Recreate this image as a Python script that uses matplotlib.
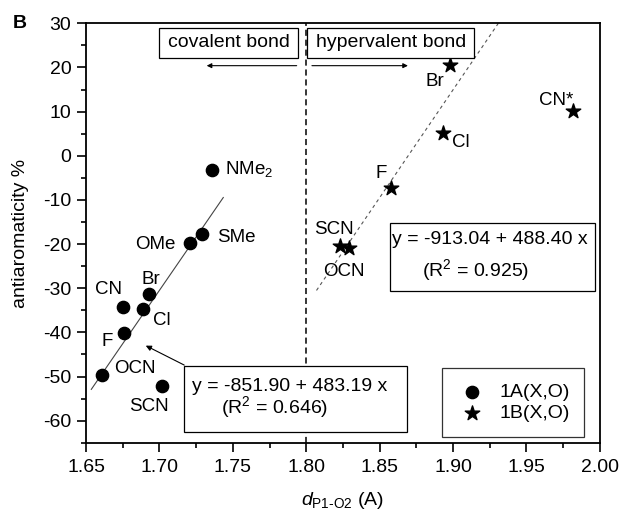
import matplotlib
matplotlib.use("Agg")
import matplotlib.pyplot as plt
from matplotlib.patches import Rectangle
import numpy as np

plt.rcParams['font.family'] = ['Liberation Sans', 'DejaVu Sans']
plt.rcParams['axes.unicode_minus'] = False
plt.rcParams['mathtext.fontset'] = 'custom'
plt.rcParams['mathtext.rm'] = 'Liberation Sans'
plt.rcParams['mathtext.it'] = 'Liberation Sans:italic'

# 1A(X,O) series (circles)
labels_a = ["NMe$_2$", "SMe", "OMe", "Br", "CN", "Cl", "F", "OCN", "SCN"]
x_a = [1.736, 1.729, 1.721, 1.693, 1.675, 1.689, 1.676, 1.661, 1.702]
y_a = [-3.2, -17.8, -19.8, -31.4, -34.2, -34.7, -40.1, -49.6, -52.1]

# 1B(X,O) series (stars)
labels_b = ["Br", "CN*", "Cl", "F", "SCN", "OCN"]
x_b = [1.898, 1.982, 1.893, 1.858, 1.823, 1.829]
y_b = [20.6, 10.1, 5.2, -7.2, -20.4, -20.9]

# linear fits (intercept, slope) and drawn x ranges
fit_a = (-851.90, 483.19)
fit_b = (-913.04, 488.40)
fit_a_range = [1.6536, 1.7435]
fit_b_range = [1.807, 1.931]

xticks = [1.65, 1.70, 1.75, 1.80, 1.85, 1.90, 1.95, 2.00]
yticks = [30, 20, 10, 0, -10, -20, -30, -40, -50, -60]

FS = 14
LFS = 13.5

fig = plt.figure(figsize=(6.22, 5.15), dpi=100)
ax = fig.add_axes([0.1383, 0.1402, 0.8260, 0.8146])
ax.set_xlim(1.65, 2.00)
ax.set_ylim(-65, 30)

ax.set_xticks(xticks)
ax.set_xticklabels([f"{v:.2f}" for v in xticks])
ax.set_yticks(yticks)
ax.set_yticklabels([str(v) for v in yticks])
ax.set_yticks(np.arange(-65, 31, 5), minor=True)
ax.set_xticks(np.arange(1.65, 2.001, 0.025), minor=True)
ax.tick_params(axis='both', which='major', direction='out', length=6.5, width=1.2, labelsize=FS)
ax.tick_params(axis='y', which='major', pad=4)
ax.tick_params(axis='x', which='major', pad=5)
ax.tick_params(axis='both', which='minor', direction='out', length=3.6, width=1.2)
for s in ax.spines.values():
    s.set_linewidth(1.3)

# fit lines
xa = np.array(fit_a_range)
ax.plot(xa, fit_a[0] + fit_a[1] * xa, color='#444444', lw=0.8)
xb = np.array(fit_b_range)
ax.plot(xb, fit_b[0] + fit_b[1] * xb, color='#555555', lw=0.8, ls=(0, (3, 3)))

# vertical dashed line at 1.80
ax.axvline(1.80, color='black', lw=1.1, ls=(0, (4, 2.5)))

# markers
ax.scatter(x_a, y_a, marker='o', s=78, color='black', zorder=3, label='1A(X,O)')
ax.scatter(x_b, y_b, marker='*', s=120, color='black', zorder=3, label='1B(X,O)')

# point labels (text centers)
lab_pos_a = {
    "NMe$_2$": (1.7447, -2.9, 'left'),
    "SMe": (1.739, -18.5, 'left'),
    "OMe": (1.7111, -20.2, 'right'),
    "Br": (1.6945, -28.0, 'center'),
    "CN": (1.6651, -30.2, 'center'),
    "Cl": (1.7018, -37.3, 'center'),
    "F": (1.6645, -42.1, 'center'),
    "OCN": (1.6836, -48.1, 'center'),
    "SCN": (1.6928, -56.8, 'center'),
}
for lab in labels_a:
    tx, ty, ha = lab_pos_a[lab]
    ax.text(tx, ty, lab, fontsize=LFS, ha=ha, va='center', zorder=4)

lab_pos_b = {
    "Br": (1.8876, 16.8, 'center'),
    "CN*": (1.9705, 12.6, 'center'),
    "Cl": (1.905, 3.0, 'center'),
    "F": (1.8509, -4.0, 'center'),
    "SCN": (1.8191, -16.6, 'center'),
    "OCN": (1.8255, -26.2, 'center'),
}
for lab in labels_b:
    tx, ty, ha = lab_pos_b[lab]
    ax.text(tx, ty, lab, fontsize=LFS, ha=ha, va='center', zorder=4)

# region boxes
ax.add_patch(Rectangle((1.700, 22.07), 0.0944, 6.93, fc='white', ec='black', lw=0.9, zorder=4))
ax.text(1.7474, 25.6, "covalent bond", fontsize=FS, ha='center', va='center', zorder=5)
ax.add_patch(Rectangle((1.8007, 22.07), 0.1135, 6.93, fc='white', ec='black', lw=0.9, zorder=4))
ax.text(1.8577, 25.6, "hypervalent bond", fontsize=FS, ha='center', va='center', zorder=5)

ax.annotate("", xy=(1.7322, 20.4), xytext=(1.7935, 20.4),
            arrowprops=dict(arrowstyle='-|>', color='black', lw=0.8, mutation_scale=7,
                            shrinkA=0, shrinkB=0))
ax.annotate("", xy=(1.8693, 20.4), xytext=(1.8039, 20.4),
            arrowprops=dict(arrowstyle='-|>', color='black', lw=0.8, mutation_scale=7,
                            shrinkA=0, shrinkB=0))

# equation boxes
ax.add_patch(Rectangle((1.857, -30.55), 0.1396, 15.26, fc='white', ec='black', lw=0.9, zorder=4))
ax.text(1.9251, -19.07, "y = -913.04 + 488.40 x", fontsize=FS, ha='center', va='center', zorder=5)
ax.text(1.9156, -25.86, "(R$^2$ = 0.925)", fontsize=FS, ha='center', va='center', zorder=5)

ax.add_patch(Rectangle((1.7167, -62.48), 0.1519, 14.94, fc='white', ec='black', lw=0.9, zorder=4))
ax.text(1.7886, -52.3, "y = -851.90 + 483.19 x", fontsize=FS, ha='center', va='center', zorder=5)
ax.text(1.7787, -56.8, "(R$^2$ = 0.646)", fontsize=FS, ha='center', va='center', zorder=5)
ax.annotate("", xy=(1.6907, -43.0), xytext=(1.7169, -47.4),
            arrowprops=dict(arrowstyle='-|>', color='black', lw=0.8, mutation_scale=8,
                            shrinkA=0, shrinkB=0))

leg = ax.legend(loc='lower right', bbox_to_anchor=(0.9694, 0.0145), fontsize=FS, frameon=True,
                fancybox=False, edgecolor='black', borderpad=0.75, handletextpad=0.6,
                labelspacing=0.2, handlelength=1.6, borderaxespad=0, scatterpoints=1)
leg.get_frame().set_linewidth(0.9)

ax.set_ylabel("antiaromaticity %", fontsize=FS, labelpad=10)
ax.set_xlabel("$d_{\\mathrm{P1\\text{-}O2}}$ (A)", fontsize=FS, labelpad=10)

fig.text(0.031, 0.954, "B", fontsize=14, fontweight='bold', ha='center', va='center')

fig.savefig("out.png", dpi=100)
